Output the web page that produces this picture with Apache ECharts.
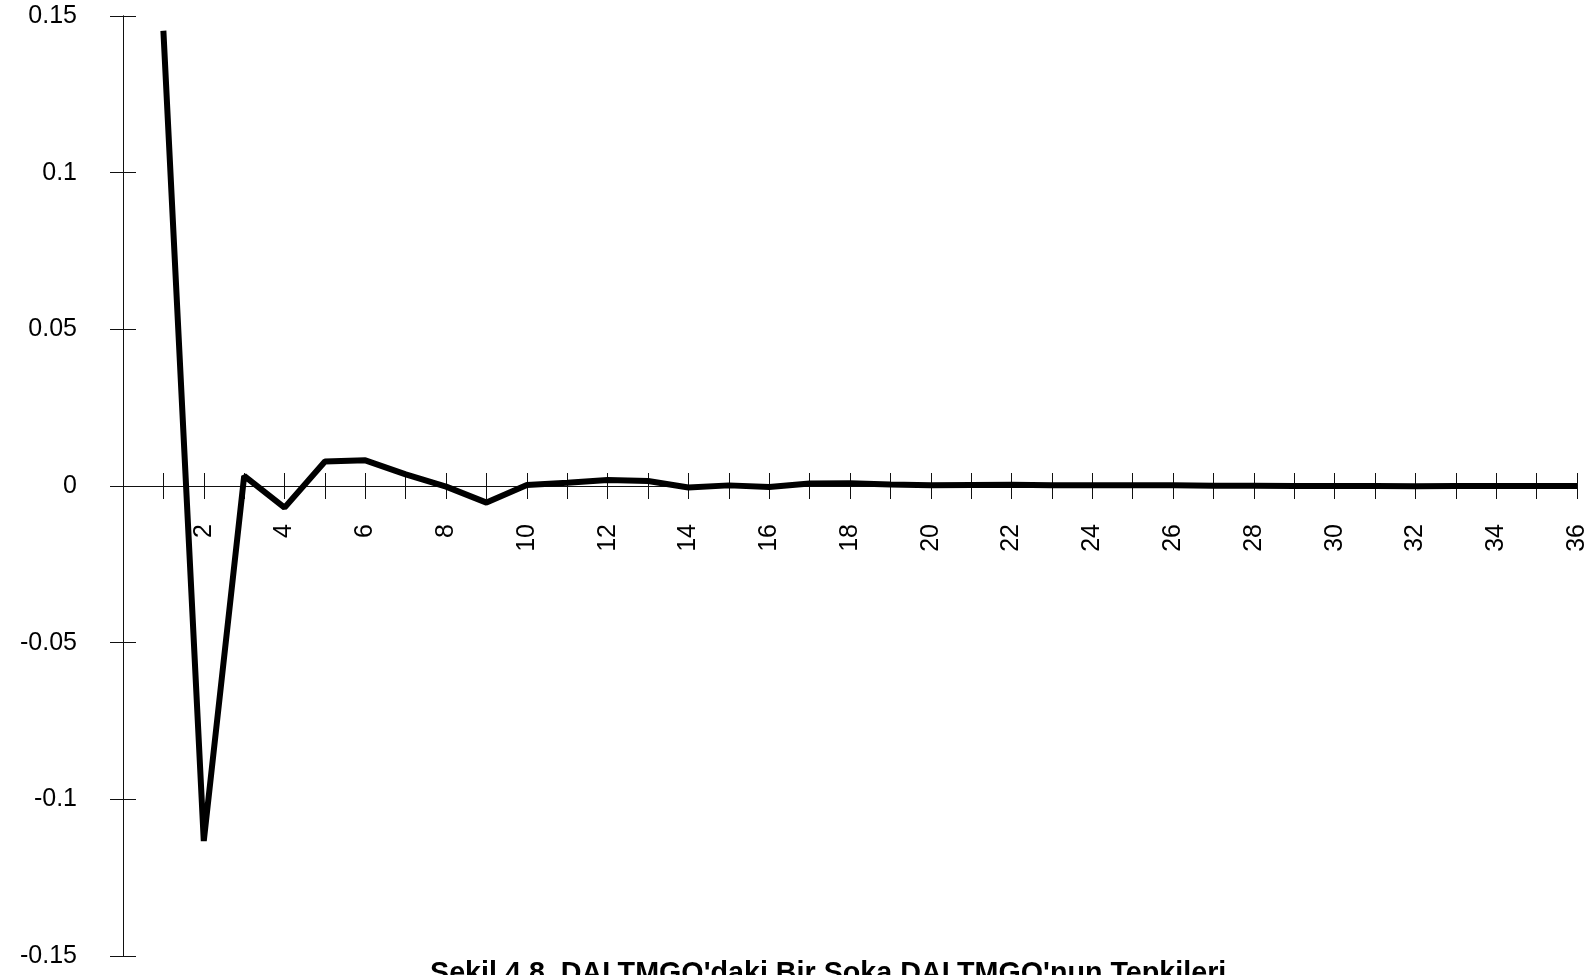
<!DOCTYPE html>
<html>
<head>
<meta charset="utf-8">
<title>Şekil 4.8</title>
<script src="https://cdn.jsdelivr.net/npm/echarts@6/dist/echarts.min.js"></script>
<style>
  html, body { margin: 0; padding: 0; background: #fff; }
  #chart { width: 1594px; height: 975px; }
</style>
</head>
<body>
<div id="chart"></div>
<script>
// Impulse response periods (horizon 1..36)
const periods = [1,2,3,4,5,6,7,8,9,10,11,12,13,14,15,16,17,18,19,20,21,22,23,24,25,26,27,28,29,30,31,32,33,34,35,36];
// Response of DALTMGO to a shock in DALTMGO
const responses = [
  0.1453, -0.1133, 0.0032, -0.0069, 0.0078, 0.0082, 0.0037, -0.0002, -0.0053, 0.0003,
  0.0010, 0.0019, 0.0016, -0.0005, 0.0002, -0.0003, 0.0008, 0.0009, 0.0005, 0.0002,
  0.0003, 0.0004, 0.0002, 0.0002, 0.0002, 0.0002, 0.0001, 0.0001, 0.0000, 0.0000,
  0.0000, -0.0001, 0.0000, 0.0000, 0.0000, 0.0000
];
// Value axis range and step
const yMin = -0.15, yMax = 0.15, yStep = 0.05;
const xMin = 0, xMax = 36;
const titleText = "Şekil 4.8. DALTMGO'daki Bir Şoka DALTMGO'nun Tepkileri";

const FONT = '"Liberation Sans", Arial, Helvetica, sans-serif';
const INK = '#111';
const CHART_H = 975;
const gridBox = { left: 123, right: 17, top: 16, bottom: 19, containLabel: false, outerBoundsMode: 'none' };

// Offset that moves the period labels from the bottom edge of the plot up to
// just below the zero line.
const plotBottom = CHART_H - gridBox.bottom;
const zeroY = gridBox.top + (plotBottom - gridBox.top) * (yMax - 0) / (yMax - yMin);
const periodLabelMargin = (zeroY + 38) - plotBottom;

function tick(inside) {
  return { show: true, inside, length: 13, lineStyle: { color: INK, width: 1 } };
}
const line = { show: true, onZero: true, lineStyle: { color: INK, width: 1 } };

const chart = echarts.init(document.getElementById('chart'), null, { renderer: 'canvas' });
chart.setOption({
  backgroundColor: '#fff',
  animation: false,
  title: {
    text: titleText,
    left: 430, top: 960, padding: 0,
    textStyle: { fontFamily: FONT, fontSize: 28.7, fontWeight: 'bold', color: '#000' }
  },
  // Three stacked grids share one plot box: labels + outward ticks, the zero
  // line with outward ticks, and inward ticks, so every tick crosses its axis.
  grid: [Object.assign({}, gridBox), Object.assign({}, gridBox), Object.assign({}, gridBox)],
  xAxis: [
    {
      gridIndex: 0, type: 'value', min: xMin, max: xMax, interval: 1, position: 'bottom',
      axisLine: { show: false, onZero: false }, axisTick: { show: false }, splitLine: { show: false },
      axisLabel: {
        show: true, rotate: 90, margin: periodLabelMargin,
        fontFamily: FONT, fontSize: 25, color: '#000',
        formatter: v => (v > 0 && v % 2 === 0) ? String(v) : ''
      }
    },
    {
      gridIndex: 1, type: 'value', min: xMin, max: xMax, interval: 1,
      axisLine: line, axisTick: tick(false), axisLabel: { show: false }, splitLine: { show: false }
    },
    {
      gridIndex: 2, type: 'value', min: xMin, max: xMax, interval: 1,
      axisLine: line, axisTick: tick(true), axisLabel: { show: false }, splitLine: { show: false }
    }
  ],
  yAxis: [
    {
      gridIndex: 0, type: 'value', min: yMin, max: yMax, interval: yStep,
      axisLine: line, axisTick: tick(false), splitLine: { show: false },
      axisLabel: { show: true, margin: 46, fontFamily: FONT, fontSize: 25, color: '#000' }
    },
    {
      gridIndex: 1, type: 'value', min: yMin, max: yMax, interval: yStep,
      axisLine: line, axisTick: tick(true), axisLabel: { show: false }, splitLine: { show: false }
    },
    {
      gridIndex: 2, type: 'value', min: yMin, max: yMax, interval: yStep,
      axisLine: { show: false }, axisTick: { show: false }, axisLabel: { show: false }, splitLine: { show: false }
    }
  ],
  series: [{
    type: 'line',
    xAxisIndex: 0, yAxisIndex: 0,
    data: periods.map((p, i) => [p, responses[i]]),
    showSymbol: false,
    lineStyle: { color: '#000', width: 6, join: 'bevel' },
    z: 5
  }]
});
</script>
</body>
</html>
